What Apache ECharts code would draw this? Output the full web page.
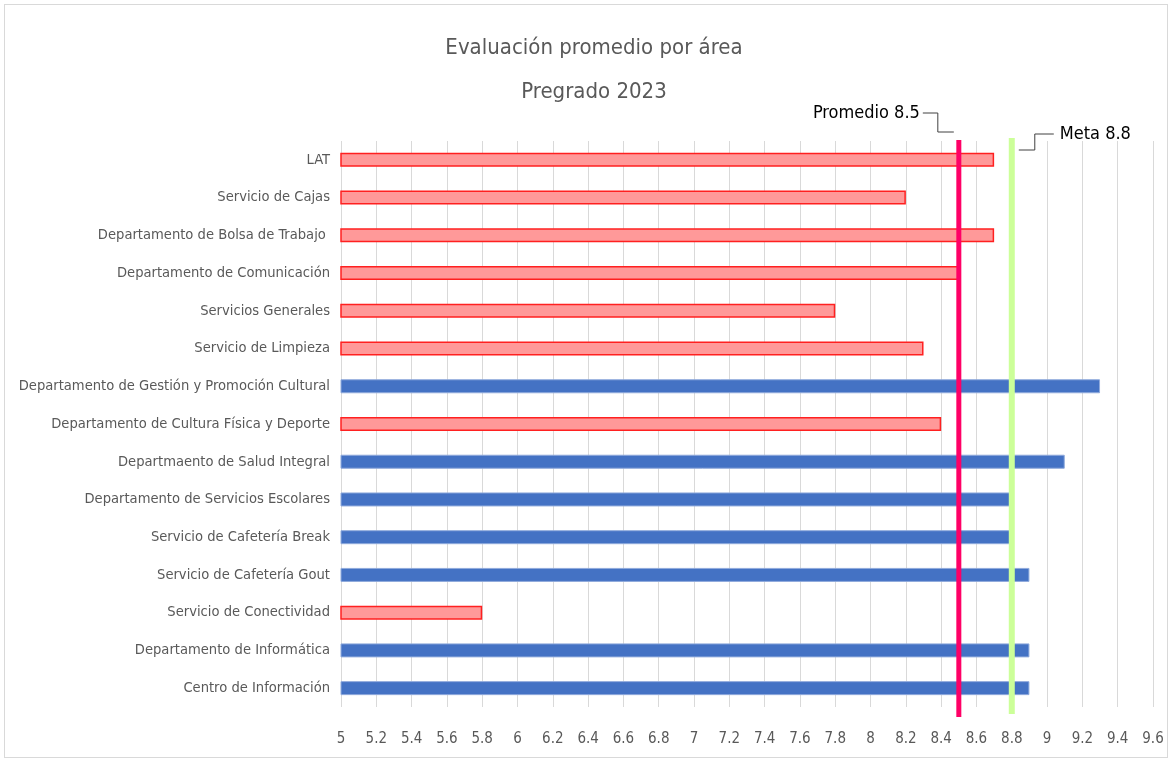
<!DOCTYPE html>
<html>
<head>
<meta charset="utf-8">
<script src="https://cdn.jsdelivr.net/npm/echarts@6/dist/echarts.min.js"></script>
<style>
  html, body { margin: 0; padding: 0; background: #fff; }
  #frame { position: absolute; left: 4px; top: 4px; width: 1164px; height: 754px; border: 1px solid #D9D9D9; box-sizing: border-box; }
  #chart { position: absolute; left: 0; top: 0; width: 1171px; height: 761px; }
</style>
</head>
<body>
<div id="frame"></div>
<div id="chart"></div>
<script>
// Areas, listed top to bottom
const areas = [
  'LAT',
  'Servicio de Cajas',
  'Departamento de Bolsa de Trabajo ',
  'Departamento de Comunicación',
  'Servicios Generales',
  'Servicio de Limpieza',
  'Departamento de Gestión y Promoción Cultural',
  'Departamento de Cultura Física y Deporte',
  'Departmaento de Salud Integral',
  'Departamento de Servicios Escolares',
  'Servicio de Cafetería Break',
  'Servicio de Cafetería Gout',
  'Servicio de Conectividad',
  'Departamento de Informática',
  'Centro de Información'
];
// Average score per area
const scores = [8.7, 8.2, 8.7, 8.5, 7.8, 8.3, 9.3, 8.4, 9.1, 8.8, 8.8, 8.9, 5.8, 8.9, 8.9];

// Reference lines
const refNames = ['Promedio', 'Meta'];
const refValues = [8.5, 8.8];
const META = refValues[1];

const titleLines = ['Evaluación promedio por área', 'Pregrado 2023'];

const FONT = '"Liberation Sans Narrow", "DejaVu Sans Condensed", "Noto Sans", sans-serif';

const barData = scores.map(v => {
  const ok = v >= META;
  return {
    value: v,
    itemStyle: ok
      ? { color: '#4472C4', borderColor: '#8FAADC', borderWidth: 1 }
      : { color: '#FF9999', borderColor: '#FF2020', borderWidth: 1.5 }
  };
});

// Label styling for each reference line (offsets relative to the line's top end)
const refStyles = [
  { color: '#FF0066', width: 5, topExt: 1, botExt: 10, side: 'left' },
  { color: '#CCFF99', width: 6, topExt: 3, botExt: 7, side: 'right' }
];

const chart = echarts.init(document.getElementById('chart'), null, { renderer: 'canvas' });

// One title component per line, both centred on the same x
const titles = titleLines.map((t, i) => ({
  text: t,
  left: 594,
  top: 37 + i * 44,
  textAlign: 'center',
  padding: 0,
  textStyle: { fontFamily: FONT, fontSize: 22, fontWeight: 'normal', color: '#595959' }
}));

chart.setOption({
  animation: false,
  backgroundColor: 'transparent',
  title: titles,
  grid: { left: 341, right: 18, top: 141, bottom: 54, containLabel: false, outerBoundsMode: 'none' },
  xAxis: {
    type: 'value',
    min: 5,
    max: 9.6,
    interval: 0.2,
    axisLine: { show: false },
    axisTick: { show: false },
    splitLine: { show: true, lineStyle: { color: '#D9D9D9', width: 1 } },
    axisLabel: {
      margin: 25,
      color: '#595959',
      fontFamily: FONT,
      fontSize: 15,
      formatter: v => String(Math.round(v * 10) / 10)
    }
  },
  yAxis: {
    type: 'category',
    data: areas,
    inverse: true,
    axisLine: { show: false },
    axisTick: { show: false },
    axisLabel: { margin: 11, color: '#595959', fontFamily: FONT, fontSize: 14.6 }
  },
  series: [
    {
      type: 'bar',
      data: barData,
      barWidth: 14
    },
    {
      type: 'custom',
      clip: false,
      z: 5,
      data: refValues.map((v, i) => [v, i]),
      renderItem: function (params, api) {
        const i = api.value(1);
        const st = refStyles[i];
        const cs = params.coordSys;
        const x = api.coord([api.value(0), 0])[0];
        const top = cs.y - st.topExt;
        const bot = cs.y + cs.height + st.botExt;
        const children = [{
          type: 'line',
          shape: { x1: x, y1: top, x2: x, y2: bot },
          style: { stroke: st.color, lineWidth: st.width }
        }];
        const label = refNames[i] + ' ' + api.value(0);
        if (st.side === 'left') {
          const ty = top - 27;
          children.push({
            type: 'polyline',
            shape: { points: [[x - 36, ty], [x - 21, ty], [x - 21, top - 8], [x - 5, top - 8]] },
            style: { stroke: '#404040', lineWidth: 1, fill: null }
          });
          children.push({
            type: 'text',
            style: { x: x - 39, y: ty, text: label, align: 'right', verticalAlign: 'middle',
                     fill: '#000', font: '18px ' + FONT }
          });
        } else {
          const ty = top - 4;
          children.push({
            type: 'polyline',
            shape: { points: [[x + 7, top + 12], [x + 23, top + 12], [x + 23, ty], [x + 42, ty]] },
            style: { stroke: '#404040', lineWidth: 1, fill: null }
          });
          children.push({
            type: 'text',
            style: { x: x + 48, y: ty, text: label, align: 'left', verticalAlign: 'middle',
                     fill: '#000', font: '18px ' + FONT }
          });
        }
        return { type: 'group', children: children };
      }
    }
  ]
});
</script>
</body>
</html>
